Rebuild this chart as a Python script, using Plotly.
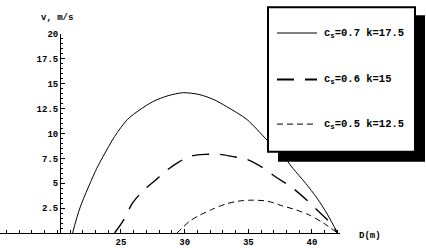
import plotly.graph_objects as go

# ---- data ----
solid_x = [21.2, 21.8, 23.1, 23.6, 24.5, 25.5, 26.5, 27.5, 28.7, 29.9, 31.2, 32.3, 33.3, 34.9, 36.5, 37.6, 38.5, 39.5, 40.4, 41.2, 42.0]
solid_y = [0.0, 2.6, 6.5, 7.7, 9.7, 11.4, 12.4, 13.2, 13.8, 14.1, 13.9, 13.4, 12.7, 11.4, 9.3, 8.0, 6.5, 5.0, 3.5, 1.9, 0.0]

long_x = [24.5, 25.2, 25.9, 26.7, 27.7, 28.6, 29.5, 30.4, 31.6, 32.8, 33.7, 34.9, 36.1, 37.3, 38.3, 39.6, 40.4, 41.6, 42.0]
long_y = [0.0, 1.3, 3.0, 4.2, 5.3, 6.3, 7.1, 7.7, 7.9, 7.9, 7.7, 7.4, 6.6, 5.5, 4.7, 3.3, 2.3, 0.8, 0.0]

short_x = [29.4, 29.8, 30.4, 31.2, 32.2, 33.2, 34.2, 35.3, 36.5, 37.5, 38.8, 39.8, 40.9, 42.0]
short_y = [0.0, 0.5, 1.2, 1.8, 2.4, 2.9, 3.2, 3.3, 3.2, 2.8, 2.3, 1.8, 1.0, 0.0]

series_names = ["c<sub>s</sub>=0.7 k=17.5", "c<sub>s</sub>=0.6 k=15", "c<sub>s</sub>=0.5 k=12.5"]
x_ticks = [25, 30, 35, 40]
x_tick_labels = ["25", "30", "35", "40"]
y_ticks = [2.5, 5, 7.5, 10, 12.5, 15, 17.5, 20]
y_tick_labels = ["2.5", "5", "7.5", "10", "12.5", "15", "17.5", "20"]
x_title = "D(m)"
y_title = "v, m/s"

# ---- layout helpers (pixel -> paper) ----
W, H = 426, 248
ML, MR, MT, MB = 0, 86, 34, 13
PW, PH = W - ML - MR, H - MT - MB
def px(x):
    return (x - ML) / PW
def py(y):
    return (H - MB - y) / PH

FONT = "Liberation Mono"
styles = [
    dict(color="black", width=1, dash="solid"),
    dict(color="black", width=1.4, dash="17px,11px"),
    dict(color="black", width=1, dash="6px,4px"),
]
series = [(solid_x, solid_y), (long_x, long_y), (short_x, short_y)]

fig = go.Figure()
for (xs, ys), st, nm in zip(series, styles, series_names):
    fig.add_trace(go.Scatter(x=xs, y=ys, mode="lines", name=nm,
                             line=dict(shape="spline", smoothing=0.8, **st),
                             showlegend=False, hoverinfo="skip"))

shapes = []
annotations = []
# legend shadow + box
shapes.append(dict(type="rect", xref="paper", yref="paper",
                   x0=px(278), x1=px(425), y0=py(163), y1=py(15),
                   fillcolor="black", line=dict(width=0), layer="above"))
shapes.append(dict(type="rect", xref="paper", yref="paper",
                   x0=px(268), x1=px(415), y0=py(153), y1=py(7),
                   fillcolor="white", line=dict(color="black", width=2), layer="above"))
legend_styles = [dict(st) for st in styles]
legend_styles[1]["width"] = 2
for st, nm, yy in zip(legend_styles, series_names, [33, 80, 125]):
    shapes.append(dict(type="line", xref="paper", yref="paper",
                       x0=px(277), x1=px(317), y0=py(yy), y1=py(yy),
                       line=st, layer="above"))
    annotations.append(dict(xref="paper", yref="paper", x=px(322), y=py(yy),
                            xanchor="left", yanchor="middle", showarrow=False,
                            text=nm, font=dict(family=FONT, size=10.5, color="black", weight="bold")))

annotations.append(dict(xref="paper", yref="paper", x=px(57), y=py(18),
                        xanchor="center", yanchor="middle", showarrow=False,
                        text=y_title, font=dict(family=FONT, size=9, color="black", weight="bold")))
annotations.append(dict(xref="paper", yref="paper", x=px(357), y=py(238),
                        xanchor="left", yanchor="middle", showarrow=False,
                        text=x_title, font=dict(family=FONT, size=9, color="black", weight="bold")))

fig.update_layout(
    width=W, height=H,
    margin=dict(l=ML, r=MR, t=MT, b=MB),
    paper_bgcolor="white", plot_bgcolor="white",
    shapes=shapes, annotations=annotations,
    xaxis=dict(range=[15.5, 42.2], showgrid=False, zeroline=False,
               showline=True, linecolor="black", linewidth=1,
               ticks="inside", ticklen=4, tickcolor="black",
               tickvals=x_ticks, ticktext=x_tick_labels,
               tickfont=dict(family=FONT, size=9, color="black", weight="bold"),
               minor=dict(dtick=1, tick0=0, ticks="inside", ticklen=3, tickcolor="black", showgrid=False)),
    yaxis=dict(range=[0, 20], showgrid=False, zeroline=False,
               anchor="free", position=px(60),
               showline=True, linecolor="black", linewidth=1,
               ticks="inside", ticklen=4, tickcolor="black",
               tickvals=y_ticks, ticktext=y_tick_labels,
               tickfont=dict(family=FONT, size=9, color="black", weight="bold"),
               minor=dict(dtick=0.5, tick0=0, ticks="inside", ticklen=2, tickcolor="black", showgrid=False)),
)

fig.write_html("out.html", config={"displayModeBar": False, "staticPlot": True},
               post_script="document.body.style.margin='0px';document.body.style.overflow='hidden';")
